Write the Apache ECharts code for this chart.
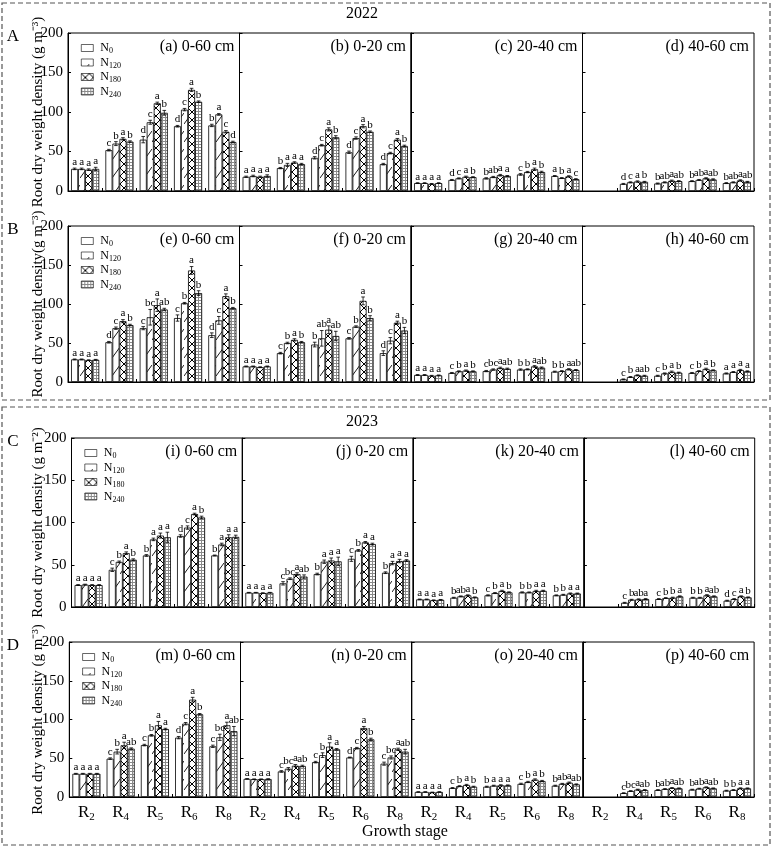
<!DOCTYPE html>
<html><head><meta charset="utf-8">
<script src="https://cdn.jsdelivr.net/npm/echarts@6/dist/echarts.min.js"></script>
<style>html,body{margin:0;padding:0;background:#fff}#c{width:772px;height:846px}</style>
</head><body><div id="c"></div><script>
const stages = ['R2','R4','R5','R6','R8'];
const levels = ['N0','N120','N180','N240'];
const panelTitles = ['(a) 0-60 cm','(b) 0-20 cm','(c) 20-40 cm','(d) 40-60 cm',
  '(e) 0-60 cm','(f) 0-20 cm','(g) 20-40 cm','(h) 40-60 cm',
  '(i) 0-60 cm','(j) 0-20 cm','(k) 20-40 cm','(l) 40-60 cm',
  '(m) 0-60 cm','(n) 0-20 cm','(o) 20-40 cm','(p) 40-60 cm'];
const rowLetters = ['A','B','C','D'];
const yTitles = ['Root dry weight density (g m\u207B\u00B3)','Root dry weight density(g m\u207B\u00B3)',
  'Root dry weight density (g m\u207B\u00B2)','Root dry weight density (g m\u207B\u00B3)'];
const years = ['2022','2023'];

// each array: rows = N0, N120, N180, N240 ; columns = R2, R4, R5, R6, R8
const a_mean = [[28,51.7,65,82,83],[28,60,87,103,97],[27,66,111,128,75],[28,62.5,99,113,62]];
const a_err  = [[1,1,4,1,1.5],[1,2.5,2.5,1.5,1],[1,1.5,1.5,2,1.5],[2,1,3,1,1]];
const a_let  = [['a','c','d','d','b'],['a','b','c','c','a'],['a','a','a','a','c'],['a','b','b','b','d']];
const b_mean = [[18,29,42,49,34],[19,33,58,67,48],[18,36,78,82,65],[19,34,68,75,57]];
const b_err  = [[0.8,0.8,1.5,1.5,1],[1,2,1,1.5,1],[0.8,1,2,2,1.5],[1.5,1,2,1,1]];
const b_let  = [['a','b','d','d','d'],['a','a','c','c','c'],['a','a','a','a','a'],['a','a','b','b','b']];
const c_mean = [[10,14,16,21,19],[10,16,17.7,24,16.4],[9,18,20,27.5,18.5],[10,17.5,19,24,15]];
const c_err  = [[0.5,0.6,0.8,1,0.6],[0.5,0.6,0.8,0.8,0.6],[0.5,0.8,1,1.5,0.8],[0.5,0.6,0.6,1,0.6]];
const c_let  = [['a','d','b','c','a'],['a','c','ab','b','b'],['a','a','a','a','a'],['a','b','a','b','c']];
const d_mean = [[null,9,9.5,12.5,10],[null,11,11,14,11],[null,12,13,16,13.4],[null,11.6,12.5,14.6,11.6]];
const d_err  = [[0,0.6,0.6,0.6,0.6],[0,0.6,0.6,0.6,0.6],[0,0.8,0.8,0.8,0.8],[0,0.6,0.6,0.8,0.6]];
const d_let  = [['','d','b','b','b'],['','c','ab','ab','ab'],['','a','a','a','a'],['','b','ab','ab','ab']];
const e_mean = [[29,51,69,82,60],[29,69,83,101,79],[28,78,98.5,143,110],[28.5,73,93,114,94.6]];
const e_err  = [[0.5,1,2,4,3],[0.5,1.5,10,1,5],[0.5,2,8,5,3],[0.5,1,1.5,3,1]];
const e_let  = [['a','d','c','c','d'],['a','c','bc','b','c'],['a','a','a','a','a'],['a','b','ab','b','b']];
const f_mean = [[20,37,48,56,37],[20,50,56,71,53],[19,54,67,104,76],[20,51,59,82,66]];
const f_err  = [[0.5,1,3,1,3],[0.5,1,10,1,4],[0.5,1.5,5,5,2],[0.5,1,6,3,4]];
const f_let  = [['a','c','b','c','d'],['a','b','ab','b','c'],['a','a','a','a','a'],['a','b','ab','b','b']];
const g_mean = [[9,11.6,14,16,13.3],[9,13.7,16,16.3,14],[8,14.6,18,20,16.3],[8.5,13.7,17,18.4,15.4]];
const g_err  = [[0.5,0.6,0.8,0.8,0.6],[0.5,0.6,0.8,0.6,0.6],[0.5,0.8,1,1,0.8],[0.5,0.6,0.8,0.8,0.6]];
const g_let  = [['a','c','c','b','b'],['a','b','bc','b','b'],['a','a','a','a','a'],['a','b','ab','ab','ab']];
const h_mean = [[null,3.4,8,11.6,11],[null,6.4,11,14,12.8],[null,8.6,13,16.7,15.4],[null,8,12,15,13.7]];
const h_err  = [[0,0.5,0.6,0.6,0.6],[0,0.6,0.6,0.6,0.6],[0,0.6,1,1,0.8],[0,0.6,0.6,0.6,0.6]];
const h_let  = [['','c','c','c','a'],['','b','b','b','a'],['','a','a','a','a'],['','ab','b','b','a']];
const i_mean = [[26,44,61,84,61],[26.5,53.4,80,94,74],[26,63.7,84.5,110,82.5],[26,56,82.5,106,83]];
const i_err  = [[0.5,2,1,1.5,0.5],[0.5,1,1.5,2,1.5],[0.5,1.5,3,1,3],[0.5,1,6,1.5,2]];
const i_let  = [['a','c','b','d','b'],['a','b','a','c','a'],['a','a','a','a','a'],['a','b','a','b','a']];
const j_mean = [[17,28,39,57,40.6],[17,33.5,53.6,67,52],[16.5,39,55,76.5,54.4],[17,36,54,74.5,55]];
const j_err  = [[0.3,2,1,3,1],[0.3,1,2,1,2],[0.3,1.5,3,1,2],[0.3,2,5,1,1]];
const j_let  = [['a','c','b','c','b'],['a','bc','a','b','a'],['a','a','a','a','a'],['a','ab','a','a','a']];
const k_mean = [[9,11,13.8,17.3,13.8],[9,12.6,16.5,17.3,14.5],[8,13.8,19,19,16],[8.5,11.4,17.3,19.2,16]];
const k_err  = [[0.4,0.5,0.6,0.6,0.5],[0.4,0.5,0.6,0.5,0.5],[0.4,0.6,0.8,0.8,0.6],[0.4,0.5,0.6,0.6,0.5]];
const k_let  = [['a','b','c','b','b'],['a','ab','b','b','b'],['a','a','a','a','a'],['a','b','b','a','a']];
const l_mean = [[null,5,9.4,11,7.5],[null,8.6,10.6,11,9.4],[null,9,11,13.8,12.6],[null,9.4,12.6,12.6,11.4]];
const l_err  = [[0,0.5,0.5,0.5,0.5],[0,0.5,0.5,0.5,0.5],[0,0.6,0.6,0.8,0.6],[0,0.5,0.6,0.6,0.5]];
const l_let  = [['','c','c','b','d'],['','b','b','b','c'],['','ab','b','a','a'],['','a','a','ab','b']];
const m_mean = [[30,49.5,67,76.6,65.4],[30,58.5,79.6,94.6,77],[30,66.7,92.5,125.6,92.5],[30,62.4,87.7,106.7,85]];
const m_err  = [[0.5,1,1,1.5,1.5],[0.5,3,1,1.5,4],[0.5,4,5,3,4],[0.5,1,1,1,6]];
const m_let  = [['a','c','c','d','c'],['a','b','b','c','bc'],['a','a','a','a','a'],['a','ab','a','b','ab']];
const n_mean = [[23.4,33,45,51,43],[23,36.5,54,63,51],[23,40.4,65,89,61.5],[23.2,40,61.5,74.4,58.5]];
const n_err  = [[0.3,1,1,0.5,2],[0.3,1.5,3,1,2],[0.3,1.5,5,2,1.5],[0.3,1,1,1.5,3]];
const n_let  = [['a','c','c','d','c'],['a','bc','b','c','bc'],['a','a','a','a','a'],['a','ab','a','b','ab']];
const o_mean = [[6.5,11.6,13.3,17,14.6],[6.5,14,14.6,19.4,17],[6,15.5,15,22.4,18.5],[6.5,13.3,15,20.6,16.3]];
const o_err  = [[0.3,0.6,0.6,0.8,0.6],[0.3,0.6,0.6,0.8,0.6],[0.3,0.8,0.8,1,0.8],[0.3,0.6,0.6,0.8,0.6]];
const o_let  = [['a','c','b','c','b'],['a','b','a','b','ab'],['a','a','a','a','a'],['a','b','a','b','ab']];
const p_mean = [[null,5,9,9.5,8.2],[null,7.7,10.3,10.8,9],[null,9.5,11.6,12.5,11.2],[null,9,11.2,11.2,11.2]];
const p_err  = [[0,0.5,0.5,0.5,0.5],[0,0.5,0.5,0.5,0.5],[0,0.6,0.6,0.6,0.6],[0,0.5,0.5,0.5,0.5]];
const p_let  = [['','c','b','b','b'],['','bc','ab','ab','b'],['','a','a','a','a'],['','ab','ab','ab','a']];

const means = [a_mean,b_mean,c_mean,d_mean,e_mean,f_mean,g_mean,h_mean,i_mean,j_mean,k_mean,l_mean,m_mean,n_mean,o_mean,p_mean];
const errs  = [a_err,b_err,c_err,d_err,e_err,f_err,g_err,h_err,i_err,j_err,k_err,l_err,m_err,n_err,o_err,p_err];
const lets  = [a_let,b_let,c_let,d_let,e_let,f_let,g_let,h_let,i_let,j_let,k_let,l_let,m_let,n_let,o_let,p_let];

const FF = '"Liberation Serif", "Times New Roman", serif';
const rows = [
  {top:33, h:158, left:68, w:171.5},
  {top:226, h:156, left:68, w:171.5},
  {top:438, h:169, left:71.5, w:170.8},
  {top:642, h:155, left:69.3, w:171.2}
];
const GAP = 0.18;

function pat(kind){
  const c = document.createElement('canvas');
  let g;
  if (kind === 'diag') {
    c.width = 8; c.height = 18; g = c.getContext('2d');
    g.fillStyle = '#fff'; g.fillRect(0,0,8,18);
    g.strokeStyle = '#000'; g.lineWidth = 0.9;
    g.beginPath(); g.moveTo(0,16); g.lineTo(8,5); g.stroke();
  } else if (kind === 'cross') {
    c.width = 8; c.height = 8; g = c.getContext('2d');
    g.fillStyle = '#fff'; g.fillRect(0,0,8,8);
    g.strokeStyle = '#000'; g.lineWidth = 1;
    g.beginPath(); g.moveTo(0,0); g.lineTo(8,8); g.moveTo(0,8); g.lineTo(8,0); g.stroke();
  } else {
    c.width = 3; c.height = 3; g = c.getContext('2d');
    g.fillStyle = '#fff'; g.fillRect(0,0,3,3);
    g.fillStyle = '#8a8a8a'; g.fillRect(0,0,3,1); g.fillRect(0,0,1,3);
  }
  return {image: c, repeat: 'repeat'};
}
const fills = ['#ffffff', pat('diag'), pat('cross'), pat('grid')];

const grids = [], xAxes = [], yAxes = [], series = [], legends = [], graphics = [];

means.forEach((mean, pi) => {
  const r = Math.floor(pi / 4), col = pi % 4, R = rows[r];
  const left = R.left + col * R.w;
  grids.push({left: left, top: R.top, width: R.w, height: R.h, show: true,
    borderColor: '#000', borderWidth: 1, backgroundColor: 'transparent',
    containLabel: false, outerBoundsMode: 'none'});
  xAxes.push({gridIndex: pi, type: 'category', data: stages,
    axisLine: {show: true, lineStyle: {color: '#000', width: 1}},
    axisTick: {show: true, inside: true, length: 3, lineStyle: {color: '#000'}},
    axisLabel: {show: r === 3, margin: 6, interval: 0,
      formatter: v => '{r|R}{s|' + v.slice(1) + '}',
      rich: {r: {fontSize: 17, fontFamily: FF, color: '#000', lineHeight: 20},
             s: {fontSize: 11, fontFamily: FF, color: '#000', lineHeight: 10, verticalAlign: 'bottom'}}},
    splitLine: {show: false}});
  yAxes.push({gridIndex: pi, type: 'value', min: 0, max: 200, interval: 50,
    axisLine: {show: true, lineStyle: {color: '#000', width: 1}},
    axisTick: {show: true, inside: true, length: 3, lineStyle: {color: '#000'}},
    axisLabel: {show: col === 0, fontSize: 15, fontFamily: FF, color: '#000', margin: 5},
    splitLine: {show: false}});
  levels.forEach((lv, j) => {
    series.push({type: 'bar', name: lv, xAxisIndex: pi, yAxisIndex: pi,
      data: mean[j], barGap: '0%', barCategoryGap: (GAP * 100) + '%',
      itemStyle: {color: fills[j], borderColor: '#000', borderWidth: 0.8},
      silent: true, animation: false});
  });
  const cd = [], cl = [];
  mean.forEach((arr, j) => arr.forEach((v, k) => {
    if (v !== null) { cd.push([k, j, v, errs[pi][j][k]]); cl.push(lets[pi][j][k]); }
  }));
  series.push({type: 'custom', xAxisIndex: pi, yAxisIndex: pi, data: cd, z: 5,
    silent: true, animation: false, clip: false,
    renderItem: function (params, api) {
      const k = api.value(0), j = api.value(1), v = api.value(2), e = api.value(3);
      const band = api.size([1, 0])[0];
      const bw = band * (1 - GAP) / 4;
      const t = api.coord([k, v + e]), b = api.coord([k, v - e]);
      const x = t[0] + (j - 1.5) * bw;
      const ls = {stroke: '#000', lineWidth: 0.8};
      return {type: 'group', children: [
        {type: 'line', shape: {x1: x, y1: t[1], x2: x, y2: b[1]}, style: ls},
        {type: 'line', shape: {x1: x - 1.8, y1: t[1], x2: x + 1.8, y2: t[1]}, style: ls},
        {type: 'line', shape: {x1: x - 1.8, y1: b[1], x2: x + 1.8, y2: b[1]}, style: ls},
        {type: 'text', style: {text: cl[params.dataIndex], x: x, y: t[1] - 0.5,
          align: 'center', verticalAlign: 'bottom', fontSize: 11, fontFamily: FF, fill: '#000'}}
      ]};
    }});
  graphics.push({type: 'text', x: left + R.w - 5, y: R.top + 14,
    style: {text: panelTitles[pi], align: 'right', verticalAlign: 'middle',
      fontSize: 16, fontFamily: FF, fill: '#000'}});
});

rows.forEach((R, ri) => {
  legends.push({orient: 'vertical', left: R.left + 8, top: R.top + 4,
    itemWidth: 12, itemHeight: 7, itemGap: 1.5, icon: 'rect', selectedMode: false,
    itemStyle: {borderColor: '#000', borderWidth: 0.6},
    data: levels,
    formatter: n => '{b|N}{s|' + n.slice(1) + '}',
    textStyle: {padding: [0, 0, 0, 2], rich: {
      b: {fontSize: 12, fontFamily: FF, color: '#000', lineHeight: 14},
      s: {fontSize: 8, fontFamily: FF, color: '#000', lineHeight: 8, verticalAlign: 'bottom'}}}});
  graphics.push({type: 'text', x: 38, y: R.top + R.h / 2, rotation: Math.PI / 2,
    style: {text: yTitles[ri], align: 'center', verticalAlign: 'middle',
      fontSize: 15, fontFamily: FF, fill: '#000'}});
  graphics.push({type: 'text', x: 13, y: R.top + 4,
    style: {text: rowLetters[ri], align: 'center', verticalAlign: 'middle',
      fontSize: 17, fontFamily: FF, fill: '#000'}});
});

graphics.push({type: 'rect', shape: {x: 2, y: 3, width: 768, height: 397},
  style: {fill: 'none', stroke: '#555', lineWidth: 1.2, lineDash: [5, 3]}});
graphics.push({type: 'rect', shape: {x: 2, y: 407, width: 768, height: 438},
  style: {fill: 'none', stroke: '#555', lineWidth: 1.2, lineDash: [5, 3]}});
graphics.push({type: 'text', x: 362, y: 14, style: {text: years[0], align: 'center',
  verticalAlign: 'middle', fontSize: 16, fontFamily: FF, fill: '#000'}});
graphics.push({type: 'text', x: 362, y: 422, style: {text: years[1], align: 'center',
  verticalAlign: 'middle', fontSize: 16, fontFamily: FF, fill: '#000'}});
graphics.push({type: 'text', x: 405, y: 832, style: {text: 'Growth stage', align: 'center',
  verticalAlign: 'middle', fontSize: 16, fontFamily: FF, fill: '#000'}});

const chart = echarts.init(document.getElementById('c'), null, {renderer: 'canvas'});
chart.setOption({
  backgroundColor: '#fff', animation: false,
  grid: grids, xAxis: xAxes, yAxis: yAxes, legend: legends, series: series,
  graphic: graphics
});
</script></body></html>
